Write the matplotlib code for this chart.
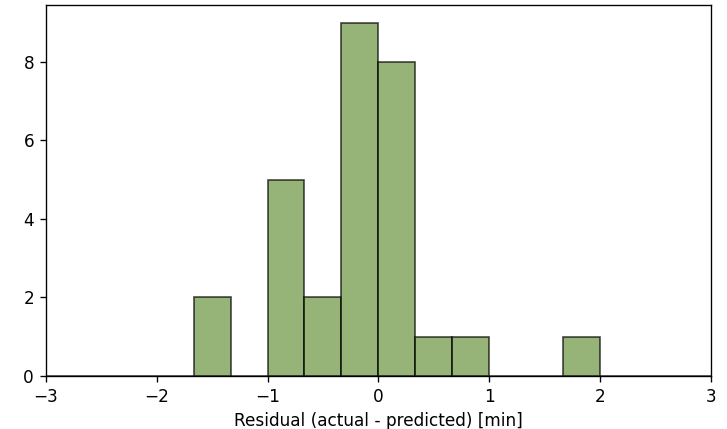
import numpy as np
import matplotlib
matplotlib.use("Agg")
import matplotlib.pyplot as plt

# bin edges: 1/3 min wide, from -3 to 3
bin_edges = np.linspace(-3, 3, 19)
# counts per bin
counts = [0, 0, 0, 0, 2, 0, 5, 2, 9, 8, 1, 1, 0, 0, 1, 0, 0, 0]

centers = 0.5 * (bin_edges[:-1] + bin_edges[1:])

DPI = 121.17
fig, ax = plt.subplots(figsize=(727 / DPI, 429 / DPI), dpi=DPI)
ax.hist(centers, bins=bin_edges, weights=counts, color="#6a953d",
        alpha=0.7, edgecolor="black", linewidth=1.0)
ax.set_xlim(-3, 3)
ax.set_xlabel("Residual (actual - predicted) [min]")
fig.subplots_adjust(left=0.063, right=0.978, top=0.988, bottom=0.124)
fig.savefig("out.png", dpi=DPI)
